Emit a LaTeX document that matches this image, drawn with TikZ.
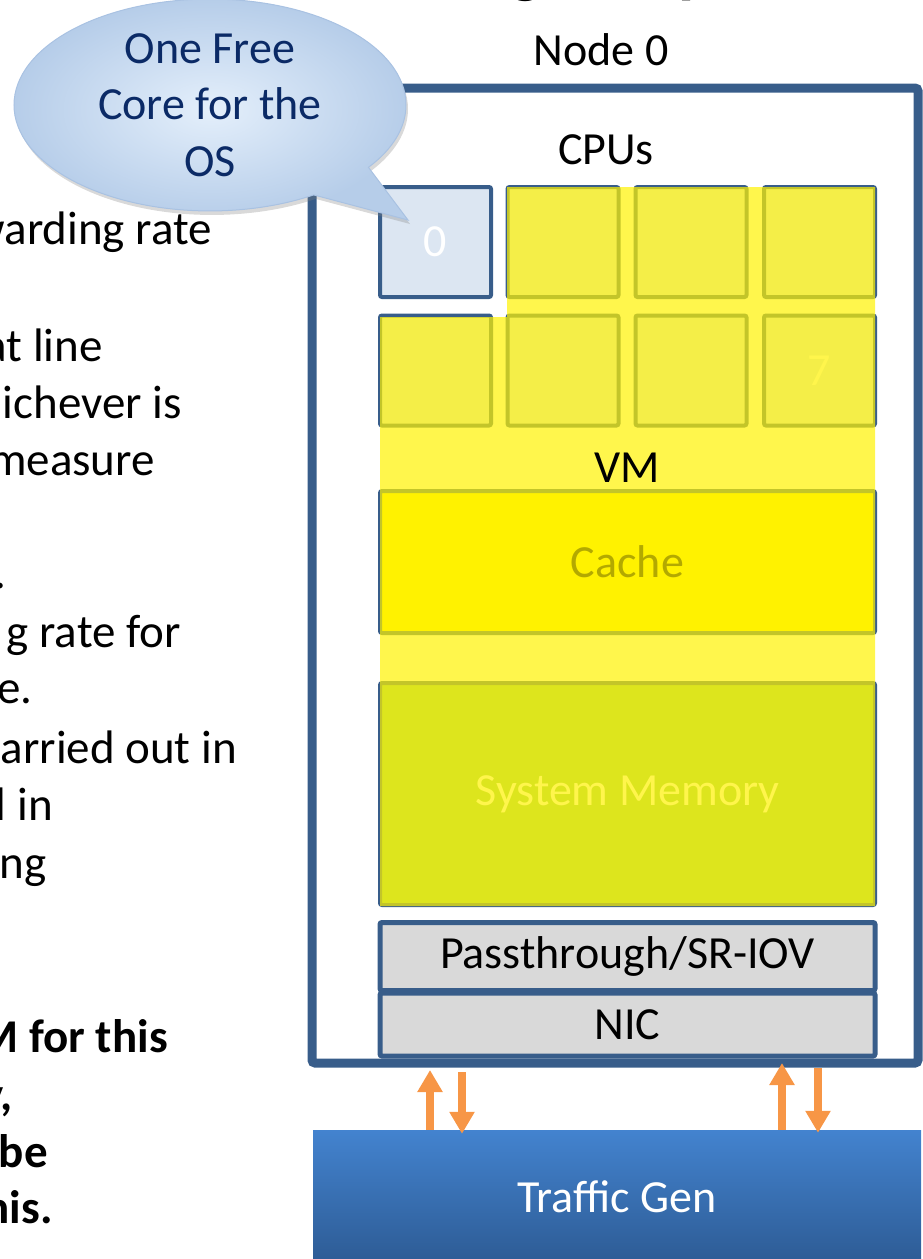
\documentclass[tikz,border=0pt]{standalone}
\usepackage{fontspec}
\setmainfont{Carlito}
\usetikzlibrary{arrows.meta, shapes.callouts, shadows}

\definecolor{hostblue}{HTML}{385D8A}
\definecolor{corefill}{HTML}{DCE6F2}
\definecolor{memgreen}{HTML}{8FC963}
\definecolor{nicgray}{HTML}{D9D9D9}
\definecolor{flowcolor}{HTML}{F79646}
\definecolor{gentop}{HTML}{4383CF}
\definecolor{genbottom}{HTML}{2D5B94}
\definecolor{bubbletext}{HTML}{0B2A66}
\definecolor{bubbleinner}{HTML}{E4EFFB}
\definecolor{bubbleouter}{HTML}{B6CDE9}
\definecolor{bubbleline}{HTML}{A9C2E2}

\begin{document}
\begin{tikzpicture}[x = 1pt, y = -1pt,
		diagtext/.style = {font = \fontsize{46}{56.5}\selectfont},
		slide/.style = {font = \fontsize{47}{58}\selectfont, anchor = base east, inner sep = 0pt},
		slidebold/.style = {slide, font = \fontsize{47}{58}\selectfont\bfseries},
		core/.style = {draw = hostblue, line width = 4pt, fill = corefill, rounded corners = 2pt, minimum width = 111pt, minimum height = 110pt, inner sep = 0pt, text = white, diagtext},
		block/.style = {draw = hostblue, line width = 4pt, rounded corners = 2pt, minimum width = 495pt, inner sep = 0pt, diagtext},
		flow/.style = {draw = flowcolor, line width = 8pt, -{Triangle[length = 22pt, width = 24pt]}}]
	\useasboundingbox (0, 0) rectangle (922, 1259);
	\node[font = \fontsize{66}{70}\selectfont\bfseries, anchor = base west, inner sep = 0pt] (title) at (510, -10) {g Setup};
	\node[slide] (s1) at (212, 244) {warding rate};
	\node[slide] (s2) at (103, 361) {at line};
	\node[slide] (s3) at (182, 418) {ichever is};
	\node[slide] (s4) at (155, 475) {measure};
	\node[slide] (s5) at (7, 588) {.};
	\node[slide] (s6) at (181, 647) {g rate for};
	\node[slide] (s7) at (33, 703) {e.};
	\node[slide] (s8) at (237, 763) {arried out in};
	\node[slide] (s9) at (53, 820) {l in};
	\node[slide] (s10) at (47, 878) {ng};
	\node[slidebold] (b1) at (168, 1052) {M for this};
	\node[slidebold] (b2) at (13, 1110) {y,};
	\node[slidebold] (b3) at (48, 1167) {be};
	\node[slidebold] (b4) at (53, 1223) {his.};
	\node[draw = hostblue, line width = 9pt, rounded corners = 3pt, minimum width = 606pt, minimum height = 975pt] (host) at (615, 575.5) {};
	\node[diagtext] (hostname) at (601, 50) {Node 0};
	\node[diagtext] (cpus) at (606, 150) {CPUs};
	\node[core] (c0) at (435.5, 242) {0};
	\node[core] (c1) at (563, 242) {};
	\node[core] (c2) at (691, 242) {};
	\node[core] (c3) at (819.5, 242) {};
	\node[core] (c4) at (435.5, 370.5) {};
	\node[core] (c5) at (563, 370.5) {};
	\node[core] (c6) at (691, 370.5) {};
	\node[core] (c7) at (819.5, 370.5) {7};
	\node[block, fill = yellow, minimum height = 142pt] (cache) at (627.5, 562) {Cache};
	\node[block, fill = memgreen, text = white, minimum height = 222pt] (mem) at (627.5, 794) {System Memory};
	\fill[yellow, opacity = 0.7] (507, 187) -- (875, 187) -- (875, 906) -- (380, 906) -- (380, 317) -- (507, 317) -- cycle;
	\node[diagtext] (vm) at (627, 468) {VM};
	\node[block, fill = nicgray, line width = 5pt, minimum height = 68pt] (pass) at (627.5, 956.5) {Passthrough/SR-IOV};
	\node[block, fill = nicgray, line width = 5pt, minimum height = 63pt] (nic) at (627.5, 1024.5) {NIC};
	\node[shade, top color = gentop, bottom color = genbottom, text = white, diagtext, minimum width = 608pt, minimum height = 134pt] (gen) at (617, 1197) {Traffic Gen};
	\coordinate (up1) at (430, 1070);
	\coordinate (dn1) at (462, 1072);
	\coordinate (up2) at (782, 1063);
	\coordinate (dn2) at (818, 1068);
	\draw[flow] (gen.north -| up1) -- (up1);
	\draw[flow] (dn1) -- ([yshift = -4pt]gen.north -| dn1);
	\draw[flow] (gen.north -| up2) -- (up2);
	\draw[flow] (dn2) -- ([yshift = -3pt]gen.north -| dn2);
	\node[ellipse callout, callout absolute pointer = {(408, 220)}, callout pointer arc = 22, draw = bubbleline, line width = 1pt, inner color = bubbleinner, outer color = bubbleouter, drop shadow = {opacity = 0.3, shadow xshift = 2pt, shadow yshift = -4pt}, minimum width = 392pt, minimum height = 190pt, text = bubbletext, align = center, diagtext] (bubble) at (210, 105) {One Free\\Core for the\\OS};
\end{tikzpicture}
\end{document}
